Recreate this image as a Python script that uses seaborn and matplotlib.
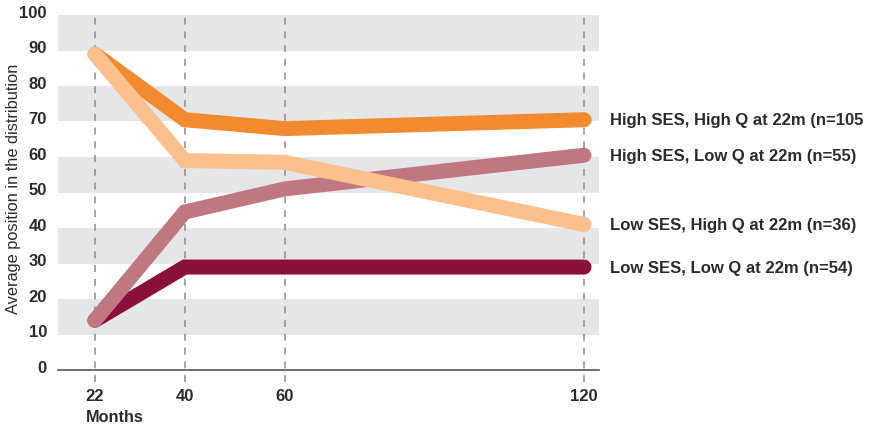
import matplotlib
matplotlib.use("Agg")
import matplotlib.pyplot as plt
import matplotlib.transforms as mtransforms
import seaborn as sns
import pandas as pd

months = [22, 40, 60, 120]
series_names = [
    "Low SES, Low Q at 22m (n=54)",
    "High SES, High Q at 22m (n=105",
    "High SES, Low Q at 22m (n=55)",
    "Low SES, High Q at 22m (n=36)",
]
low_ses_low_q = [14, 29, 29, 29]
high_ses_high_q = [89, 70.5, 68, 70.5]
high_ses_low_q = [14, 44.5, 51, 60.5]
low_ses_high_q = [89, 59, 58.5, 41]
colors = ["#8B0F3B", "#F28A30", "#C07880", "#FBC08C"]
y_ticks = [0, 10, 20, 30, 40, 50, 60, 70, 80, 90, 100]

values = [low_ses_low_q, high_ses_high_q, high_ses_low_q, low_ses_high_q]
rows = []
for name, vals in zip(series_names, values):
    for m, v in zip(months, vals):
        rows.append({"Months": m, "value": v, "series": name})
df = pd.DataFrame(rows)

sns.set_style("white")
plt.rcParams["font.family"] = ["Liberation Sans", "DejaVu Sans"]

fig = plt.figure(figsize=(8.72, 4.27), dpi=100)
ax = fig.add_axes([58 / 872, 1 - 371 / 427, (599 - 58) / 872, (371 - 16) / 427])

# gray bands
for lo in [10, 30, 50, 70, 90]:
    ax.axhspan(lo, lo + 10, color="#E5E6E8", lw=0, zorder=0)

# dashed vertical lines
for m in months:
    ax.axvline(m, ymin=-0.035, ymax=1.0, color="#8C8C8C", lw=1.1,
               dashes=(4.5, 4.5), clip_on=False, zorder=1)

sns.lineplot(data=df, x="Months", y="value", hue="series",
             hue_order=series_names, palette=colors, ax=ax, legend=False,
             linewidth=10.8, solid_capstyle="round", solid_joinstyle="miter",
             sort=False, zorder=3)

ax.set_xlim(14.6, 123.0)
ax.set_ylim(0, 100)
ax.set_xticks(months)
ax.set_xticklabels([str(m) for m in months])
ax.set_yticks(y_ticks)
ax.set_yticklabels([str(t) for t in y_ticks])
ax.set_xlabel("")
ax.set_ylabel("")
for s in ["top", "right", "left"]:
    ax.spines[s].set_visible(False)
ax.spines["bottom"].set_color("#555555")
ax.spines["bottom"].set_linewidth(1.2)
ax.tick_params(axis="both", length=0, labelsize=12, colors="#2B2B2B")
ax.tick_params(axis="y", pad=8)
ax.tick_params(axis="x", pad=13)
for lab in ax.get_xticklabels() + ax.get_yticklabels():
    lab.set_fontweight("bold")
offset = mtransforms.ScaledTranslation(0, 4 / 100, fig.dpi_scale_trans)
for lab in ax.get_yticklabels():
    lab.set_transform(lab.get_transform() + offset)

# end labels
for name, vals in zip(series_names, values):
    ax.annotate(name, xy=(months[-1], vals[-1]), xytext=(19, 0),
                textcoords="offset points", va="center", ha="left",
                fontsize=12, fontweight="bold", color="#2B2B2B",
                annotation_clip=False)

fig.text(86 / 872, 1 - 418 / 427, "Months", fontsize=11.7, fontweight="bold",
         color="#2B2B2B", ha="left", va="center")
fig.text(14 / 872, 1 - 189 / 427, "Average position in the distribution",
         fontsize=11.8, color="#2B2B2B", rotation=90, ha="center", va="center")

fig.savefig("out.png", dpi=100)
